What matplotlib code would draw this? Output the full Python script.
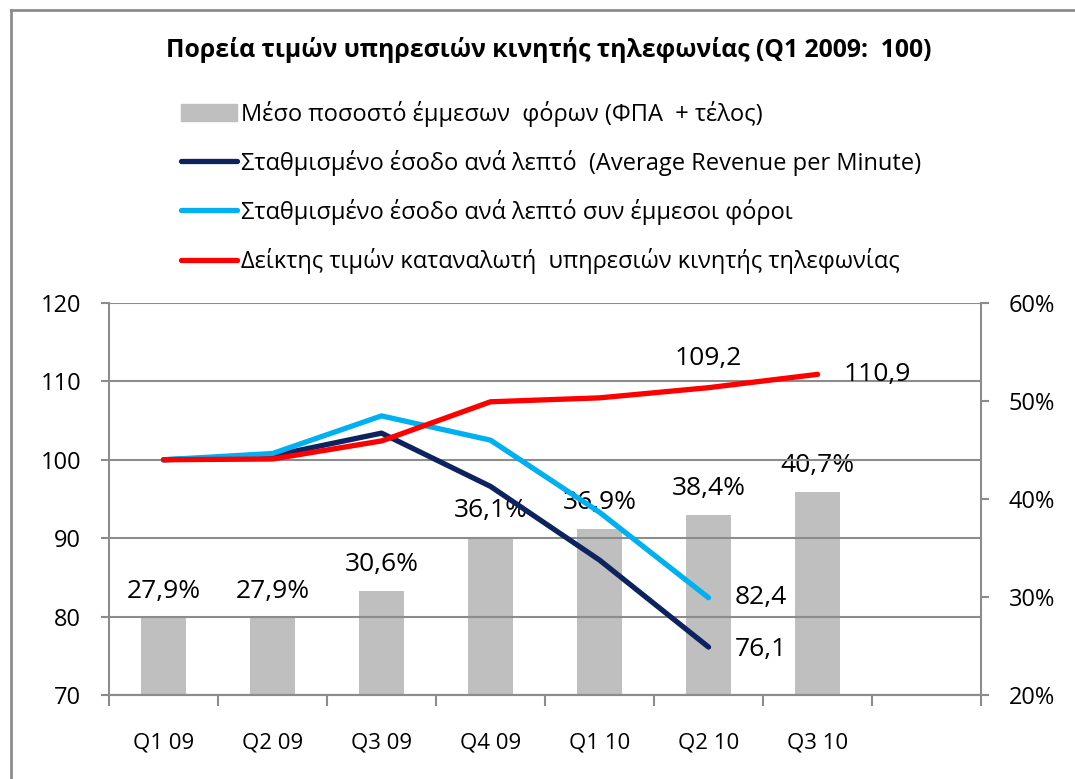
import matplotlib.pyplot as plt
import numpy as np
from matplotlib.lines import Line2D
from matplotlib.patches import Patch

plt.rcParams['font.family'] = ['Open Sans', 'DejaVu Sans']

quarters = ["Q1 09", "Q2 09", "Q3 09", "Q4 09", "Q1 10", "Q2 10", "Q3 10"]
tax_pct = [27.9, 27.9, 30.6, 36.1, 36.9, 38.4, 40.7]
arpm = [100, 100.5, 103.4, 96.6, 87.2, 76.1]
arpm_tax = [100, 100.8, 105.6, 102.5, 93.3, 82.4]
cpi = [100, 100.1, 102.4, 107.4, 107.9, 109.2, 110.9]

names = ["Μέσο ποσοστό έμμεσων  φόρων (ΦΠΑ  + τέλος)",
         "Σταθμισμένο έσοδο ανά λεπτό  (Average Revenue per Minute)",
         "Σταθμισμένο έσοδο ανά λεπτό συν έμμεσοι φόροι",
         "Δείκτης τιμών καταναλωτή  υπηρεσιών κινητής τηλεφωνίας"]

c_bar = "#bfbfbf"
c_navy = "#0c2360"
c_light = "#00b0f0"
c_red = "#ff0000"
grid_c = "#8c8c8c"
fs = 17      # tick labels
fs_lab = 19  # data labels

fig = plt.figure(figsize=(10.75, 7.79), dpi=100)
ax = fig.add_axes([0.1014, 0.108, 0.8112, 0.503])
ax2 = ax.twinx()
ax.set_zorder(ax2.get_zorder() + 1)
ax.patch.set_visible(False)

x = np.arange(len(quarters))

# bars on right axis (percent)
ax2.bar(x, tax_pct, width=0.41, color=c_bar, zorder=2)
ax2.set_ylim(20, 60)
ax2.set_yticks(range(20, 61, 10))
ax2.set_yticklabels([f"{v}%" for v in range(20, 61, 10)], fontsize=fs)
for xi, v in zip(x, tax_pct):
    ax2.annotate(f"{v:.1f}%".replace(".", ","), (xi, v), xytext=(0, 10),
                 textcoords="offset points", ha="center", va="bottom", fontsize=fs_lab)

# lines on left axis
ax.plot(x[:len(arpm)], arpm, color=c_navy, lw=3.8, solid_capstyle="round", zorder=3)
ax.plot(x[:len(arpm_tax)], arpm_tax, color=c_light, lw=3.8, solid_capstyle="round", zorder=3)
ax.plot(x, cpi, color=c_red, lw=3.8, solid_capstyle="round", zorder=4)

ax.annotate(f"{cpi[5]:.1f}".replace(".", ","), (x[5], cpi[5]), xytext=(0, 12),
            textcoords="offset points", ha="center", va="bottom", fontsize=fs_lab)
ax.annotate(f"{cpi[6]:.1f}".replace(".", ","), (x[6], cpi[6]), xytext=(19, 0),
            textcoords="offset points", ha="left", va="center", fontsize=fs_lab)
ax.annotate(f"{arpm_tax[-1]:.1f}".replace(".", ","), (x[5], arpm_tax[-1]), xytext=(19, 0),
            textcoords="offset points", ha="left", va="center", fontsize=fs_lab)
ax.annotate(f"{arpm[-1]:.1f}".replace(".", ","), (x[5], arpm[-1]), xytext=(19, -2),
            textcoords="offset points", ha="left", va="center", fontsize=fs_lab)

ax.set_ylim(70, 120)
ax.set_yticks(range(70, 121, 10))
ax.tick_params(axis="y", labelsize=fs, length=6, color=grid_c, width=1.5, pad=14)
ax2.tick_params(axis="y", labelsize=fs, length=6, color=grid_c, width=1.5, pad=14)
ax.yaxis.grid(True, color=grid_c, lw=1.5)
ax2.yaxis.grid(False)

ax.set_xlim(-0.5, 7.5)
ax.set_xticks(np.arange(-0.5, 8, 1))
ax.set_xticklabels([])
ax.set_xticks(x, minor=True)
ax.set_xticklabels(quarters, minor=True, fontsize=fs - 1)
ax.tick_params(axis="x", which="major", length=8, color=grid_c, width=1.5)
ax.tick_params(axis="x", which="minor", length=0, pad=27)

for a in (ax, ax2):
    for s in a.spines.values():
        s.set_color(grid_c)
        s.set_linewidth(1.5)
    a.spines["top"].set_visible(False)
ax.spines["right"].set_visible(False)
ax2.spines["left"].set_visible(False)

fig.text(0.51, 0.936, "Πορεία τιμών υπηρεσιών κινητής τηλεφωνίας (Q1 2009:  100)",
         ha="center", va="center", fontsize=17.8, fontweight="bold")

handles = [Patch(color=c_bar),
           Line2D([], [], color=c_navy, lw=3.8, solid_capstyle="round"),
           Line2D([], [], color=c_light, lw=3.8, solid_capstyle="round"),
           Line2D([], [], color=c_red, lw=3.8, solid_capstyle="round")]
fig.legend(handles, names, loc="upper left", bbox_to_anchor=(0.157, 0.886),
           frameon=False, fontsize=17, handlelength=2.4, handleheight=0.75,
           handletextpad=0.15, labelspacing=0.98, borderpad=0)

# outer chart frame
fig.add_artist(Line2D([0.0102, 0.0102], [0, 0.987], transform=fig.transFigure,
                      color=grid_c, lw=2))
fig.add_artist(Line2D([0.0102, 1], [0.987, 0.987], transform=fig.transFigure,
                      color=grid_c, lw=2))

fig.savefig("out.png", dpi=100)
